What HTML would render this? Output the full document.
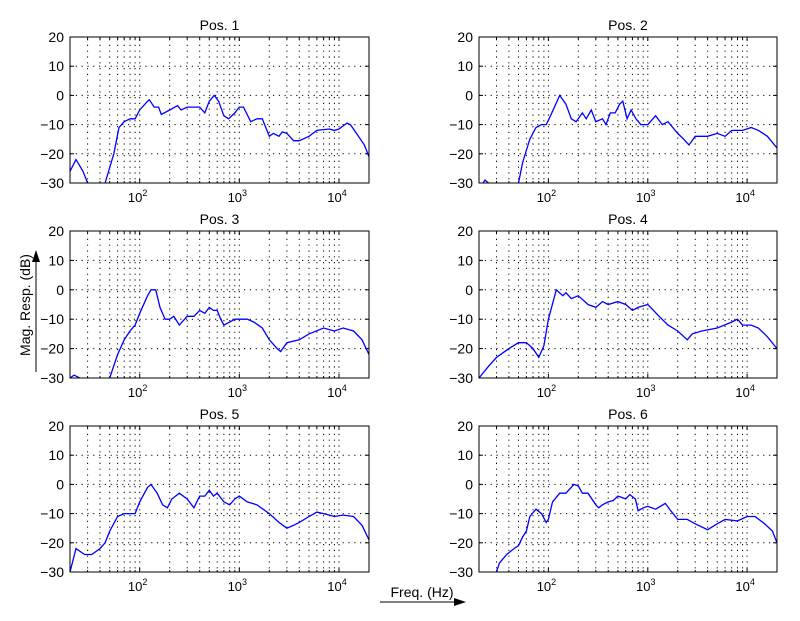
<!DOCTYPE html>
<html><head><meta charset="utf-8"><style>
html,body{margin:0;padding:0;background:#fff;}
svg{display:block;font-family:"Liberation Sans",sans-serif;}
</style></head><body>
<svg id="s" width="800" height="621" xmlns="http://www.w3.org/2000/svg"></svg>
<script>
var S=document.getElementById('s'),h='';
var panels=[
[70,369,37,183,'Pos. 1',[[[20,-26],[23,-22],[27,-26],[30,-30]],[[45,-30],[55,-20],[62,-11],[70,-9],[80,-8],[90,-8],[100,-5],[120,-2],[125,-1.5],[140,-4],[155,-4],[165,-6.5],[200,-5],[240,-3.5],[260,-5],[300,-4],[400,-4],[450,-6],[500,-2],[560,0],[620,-2],[700,-7],[780,-8],[900,-6],[1000,-4],[1100,-4],[1300,-9],[1500,-8],[1700,-8],[2000,-14],[2200,-13],[2500,-14],[2700,-12.5],[3000,-13],[3500,-15.5],[4000,-15.5],[5000,-14],[6000,-12],[8000,-11.5],[9000,-12],[10000,-11.5],[12000,-9.5],[13000,-10],[15000,-13],[18000,-17],[20000,-21]]]],
[479,777,37,183,'Pos. 2',[[[22,-30],[23,-29],[25,-30]],[[50,-30],[55,-23],[65,-15],[75,-11],[85,-10],[95,-10],[105,-7],[130,0],[150,-3],[170,-8],[190,-9],[220,-6],[240,-8],[270,-5],[300,-9],[350,-8],[380,-10],[420,-6],[470,-6],[520,-3],[560,-2],[620,-8],[680,-5],[760,-8],[850,-10],[1000,-10],[1200,-7],[1400,-10],[1600,-9],[2000,-13],[2300,-15],[2600,-17],[3000,-14],[4000,-14],[5000,-13],[6000,-14],[7000,-12],[9000,-12],[11000,-11],[13000,-12],[16000,-14],[20000,-18]]]],
[70,369,231,378,'Pos. 3',[[[20,-30],[22,-29],[25,-30]],[[50,-30],[60,-22],[70,-17],[80,-14],[90,-12],[100,-8],[120,-2],[130,0],[145,0],[160,-6],[180,-10],[200,-10],[220,-9],[250,-12],[300,-9],[350,-9],[400,-7],[450,-8],[500,-6],[550,-7],[600,-7],[650,-10],[700,-12],[800,-11],[900,-10],[1000,-10],[1200,-10],[1400,-11],[1700,-13],[2000,-17],[2400,-20],[2600,-21],[3000,-18],[4000,-17],[5000,-15],[7000,-13],[9000,-14],[11000,-13],[14000,-14],[17000,-17],[20000,-22]]]],
[479,777,231,378,'Pos. 4',[[[20,-30],[25,-26],[30,-23],[40,-20],[50,-18],[60,-18],[70,-20],[80,-23],[90,-19],[100,-10],[120,0],[140,-2],[150,-1],[170,-3],[200,-2],[250,-5],[300,-6],[350,-4],[400,-5],[500,-4],[600,-5],[700,-7],[800,-6],[1000,-5],[1300,-9],[1600,-12],[2000,-14],[2500,-17],[2800,-15],[3500,-14],[5000,-13],[7000,-11],[8000,-10],[9000,-12],[11000,-12],[13000,-13],[16000,-16],[20000,-20]]]],
[70,369,426,572,'Pos. 5',[[[20,-30],[23,-22],[28,-24],[33,-24],[40,-22],[45,-20],[50,-16],[60,-11],[70,-10],[80,-10],[90,-10],[100,-6],[120,-1],[130,0],[150,-3],[170,-7],[190,-8],[210,-5],[250,-3],[300,-5],[350,-8],[400,-4],[450,-4],[500,-2],[550,-4],[600,-3],[700,-6],[800,-7],[900,-5],[1000,-4],[1200,-6],[1500,-7],[2000,-10],[2500,-13],[3000,-15],[3500,-14],[4000,-13],[5000,-11],[6000,-9.5],[7000,-10],[9000,-11],[11000,-10.5],[14000,-11],[17000,-14],[20000,-19]]]],
[479,777,426,572,'Pos. 6',[[[30,-30],[32,-27],[38,-24],[45,-22],[50,-21],[55,-18],[60,-16],[65,-11],[75,-8.5],[85,-10],[95,-13],[100,-12],[110,-6],[130,-3],[150,-3],[170,-1],[180,0],[200,-0.5],[220,-3],[250,-3],[300,-7],[320,-8],[350,-7],[400,-6],[450,-5.5],[500,-4],[550,-4.5],[600,-5],[660,-3.5],[750,-5],[800,-9],[900,-8],[1000,-7.5],[1200,-8.5],[1500,-6.5],[1700,-9],[2000,-12],[2500,-12],[3000,-13.5],[4000,-15.5],[5000,-13.5],[6000,-12],[8000,-12.5],[10000,-11],[12000,-11],[15000,-13.5],[18000,-16],[20000,-20]]]]
];
panels.forEach(function(p){
 var x0=p[0],x1=p[1],y0=p[2],y1=p[3];
 var lx=Math.log10(20),rx=Math.log10(20000);
 function X(f){return x0+(Math.log10(f)-lx)/(rx-lx)*(x1-x0);}
 function Y(d){return y1-(d+30)/50*(y1-y0);}
 h+='<text x="'+((x0+x1)/2)+'" y="'+(y0-7)+'" font-size="14" text-anchor="middle">'+p[4]+'</text>';
 for(var e=1;e<=4;e++)for(var m=1;m<=9;m++){var f=m*Math.pow(10,e);if(f<=20||f>=20000)continue;var x=X(f).toFixed(1);
  h+='<line x1="'+x+'" y1="'+(y0+2)+'" x2="'+x+'" y2="'+y1+'" stroke="#000" stroke-width="1" stroke-dasharray="1.2,4.6"/>';
  h+='<line x1="'+x+'" y1="'+y1+'" x2="'+x+'" y2="'+(y1-(m==1?4:2))+'" stroke="#000"/>';
  h+='<line x1="'+x+'" y1="'+y0+'" x2="'+x+'" y2="'+(y0+(m==1?4:2))+'" stroke="#000"/>';}
 for(var d=-30;d<=20;d+=10){var y=Y(d).toFixed(1);
  if(d>-30&&d<20)h+='<line x1="'+x0+'" y1="'+y+'" x2="'+x1+'" y2="'+y+'" stroke="#000" stroke-dasharray="1.2,4.6"/>';
  h+='<line x1="'+x0+'" y1="'+y+'" x2="'+(x0+4)+'" y2="'+y+'" stroke="#000"/><line x1="'+x1+'" y1="'+y+'" x2="'+(x1-4)+'" y2="'+y+'" stroke="#000"/>';
  h+='<text x="'+(x0-6)+'" y="'+(+y+5)+'" font-size="14" text-anchor="end">'+(d<0?'\u2212'+(-d):d)+'</text>';}
 [2,3,4].forEach(function(e){var x=X(Math.pow(10,e));
  h+='<text x="'+(x-2)+'" y="'+(y1+19)+'" font-size="13" text-anchor="middle">10<tspan font-size="9" dy="-6">'+e+'</tspan></text>';});
 p[5].forEach(function(seg){h+='<polyline fill="none" stroke="#0000ff" stroke-width="1.3" points="'+seg.map(function(q){return X(q[0]).toFixed(1)+','+Y(q[1]).toFixed(1);}).join(' ')+'"/>';});
 h+='<rect x="'+x0+'" y="'+y0+'" width="'+(x1-x0)+'" height="'+(y1-y0)+'" fill="none" stroke="#000"/>';
});
h+='<text transform="translate(30,305) rotate(-90)" font-size="14" text-anchor="middle">Mag. Resp. (dB)</text>';
h+='<line x1="36" y1="372" x2="36" y2="258" stroke="#000"/><polygon points="36,250 32,262 40,262" fill="#000"/>';
h+='<text x="422" y="597" font-size="14" text-anchor="middle">Freq. (Hz)</text>';
h+='<line x1="380" y1="602" x2="458" y2="602" stroke="#000"/><polygon points="466,602 454,598 454,606" fill="#000"/>';
S.innerHTML=h;
</script>
</body></html>
